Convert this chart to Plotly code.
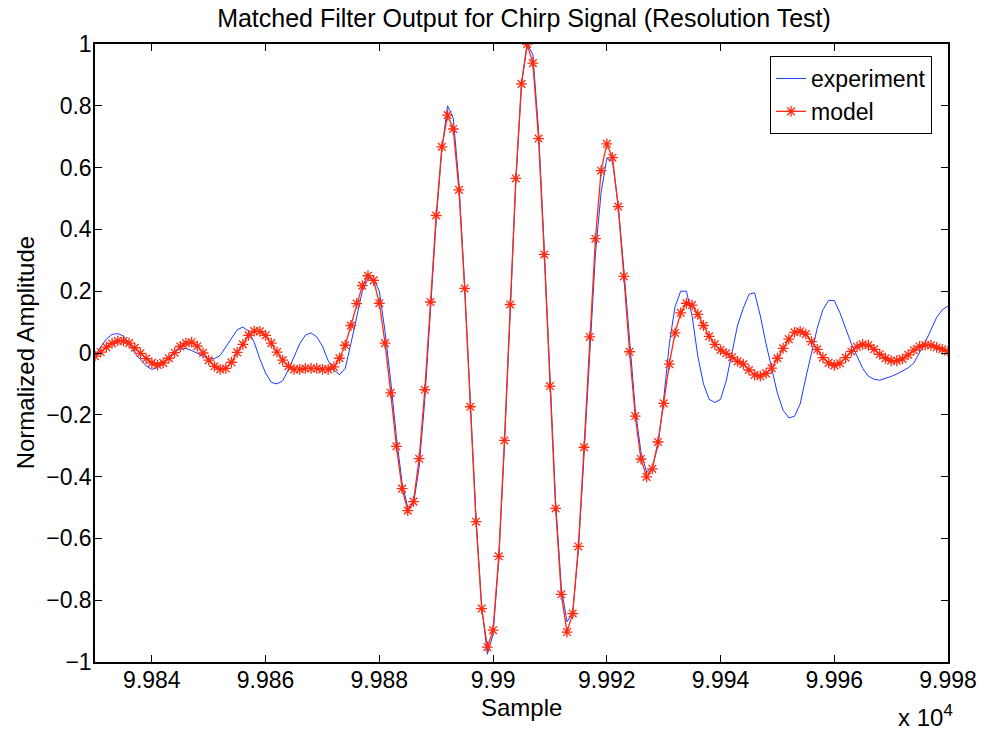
import plotly.graph_objects as go

# Sample indices shown on the x axis
samples = list(range(99830, 99981))

# Normalized matched-filter output, measured
experiment = [
    -0.010, 0.020, 0.045, 0.060, 0.063, 0.055, 0.030, 0.000, -0.022, -0.042,
    -0.053, -0.047, -0.030, -0.013, 0.005, 0.013, 0.015, 0.008, 0.000, -0.010,
    -0.019, -0.018, -0.008, 0.020, 0.050, 0.075, 0.084, 0.070, 0.035, -0.020,
    -0.065, -0.095, -0.100, -0.090, -0.055, -0.015, 0.030, 0.058, 0.065, 0.052,
    0.022, -0.025, -0.055, -0.070, -0.050, 0.030, 0.120, 0.200, 0.240, 0.240,
    0.200, 0.070, -0.090, -0.270, -0.420, -0.500, -0.490, -0.370, -0.150, 0.140,
    0.430, 0.660, 0.800, 0.760, 0.550, 0.220, -0.160, -0.530, -0.820, -0.975,
    -0.910, -0.670, -0.300, 0.140, 0.550, 0.870, 1.000, 0.966, 0.720, 0.340,
    -0.090, -0.480, -0.760, -0.870, -0.840, -0.640, -0.330, 0.010, 0.320, 0.520,
    0.630, 0.620, 0.480, 0.270, 0.030, -0.180, -0.320, -0.385, -0.370, -0.300,
    -0.150, 0.030, 0.150, 0.200, 0.200, 0.120, -0.010, -0.100, -0.150, -0.160,
    -0.150, -0.090, 0.000, 0.090, 0.145, 0.190, 0.195, 0.120, 0.030, -0.045,
    -0.130, -0.185, -0.210, -0.205, -0.165, -0.080, 0.000, 0.080, 0.140, 0.170,
    0.170, 0.130, 0.080, 0.030, -0.010, -0.050, -0.075, -0.085, -0.088, -0.083,
    -0.076, -0.068, -0.058, -0.048, -0.032, 0.000, 0.035, 0.075, 0.115, 0.140,
    0.152,
]

# Normalized matched-filter output, simulated
model = [
    -0.010, 0.003, 0.019, 0.031, 0.039, 0.039, 0.032, 0.017, -0.001, -0.018,
    -0.032, -0.039, -0.032, -0.017, 0.001, 0.021, 0.032, 0.035, 0.022, 0.000,
    -0.023, -0.043, -0.053, -0.050, -0.030, 0.002, 0.028, 0.057, 0.071, 0.070,
    0.057, 0.032, 0.003, -0.023, -0.043, -0.053, -0.053, -0.050, -0.050, -0.050,
    -0.053, -0.053, -0.045, -0.017, 0.025, 0.089, 0.160, 0.218, 0.250, 0.235,
    0.161, 0.032, -0.129, -0.302, -0.439, -0.510, -0.481, -0.342, -0.119, 0.165,
    0.445, 0.667, 0.770, 0.725, 0.528, 0.209, -0.174, -0.546, -0.827, -0.952,
    -0.897, -0.658, -0.283, 0.157, 0.565, 0.871, 1.000, 0.938, 0.694, 0.319,
    -0.107, -0.503, -0.781, -0.903, -0.843, -0.626, -0.305, 0.052, 0.370, 0.590,
    0.677, 0.632, 0.474, 0.248, 0.004, -0.204, -0.343, -0.401, -0.375, -0.288,
    -0.163, -0.036, 0.065, 0.130, 0.161, 0.155, 0.125, 0.089, 0.054, 0.028,
    0.010, -0.001, -0.014, -0.027, -0.036, -0.055, -0.071, -0.075, -0.066, -0.049,
    -0.017, 0.015, 0.045, 0.067, 0.070, 0.061, 0.037, 0.012, -0.015, -0.032,
    -0.040, -0.033, -0.015, 0.005, 0.020, 0.028, 0.025, 0.012, -0.004, -0.017,
    -0.025, -0.025, -0.019, -0.006, 0.009, 0.021, 0.026, 0.025, 0.018, 0.012,
    0.005,
]

x_tick_vals = [99840, 99860, 99880, 99900, 99920, 99940, 99960, 99980]
x_tick_text = ["9.984", "9.986", "9.988", "9.99", "9.992", "9.994", "9.996", "9.998"]
y_tick_vals = [-1, -0.8, -0.6, -0.4, -0.2, 0, 0.2, 0.4, 0.6, 0.8, 1]

FONT = "Liberation Sans, Arial, Helvetica, sans-serif"

fig = go.Figure()
fig.add_trace(go.Scatter(
    x=samples, y=experiment, name="experiment", mode="lines",
    line=dict(color="#1a3cff", width=1),
))
fig.add_trace(go.Scatter(
    x=samples, y=model, name="model", mode="lines+markers",
    line=dict(color="#ff2a10", width=1.3),
    marker=dict(symbol="asterisk-open", size=9,
                line=dict(color="#ff2a10", width=1.3)),
))

axis_common = dict(
    showgrid=False, zeroline=False,
    showline=True, linecolor="black", linewidth=1.5, mirror="allticks",
    ticks="inside", ticklen=7, tickwidth=1, tickcolor="black",
    tickfont=dict(family=FONT, size=23, color="black"),
)

fig.update_xaxes(range=[99830, 99980], tickmode="array",
                 tickvals=x_tick_vals, ticktext=x_tick_text,
                 ticklabelstandoff=-3, **axis_common)
fig.update_yaxes(range=[-1, 1], tickmode="array", tickvals=y_tick_vals,
                 ticklabelstandoff=-3, **axis_common)

fig.update_layout(
    width=989, height=730,
    margin=dict(l=95, r=37, t=44, b=68),
    paper_bgcolor="white", plot_bgcolor="white",
    font=dict(family=FONT, size=24, color="black"),
    title=dict(text="Matched Filter Output for Chirp Signal (Resolution Test)",
               x=(526 - 95) / 857, xref="paper", xanchor="center",
               y=1 - 18 / 730, yref="container", yanchor="middle",
               font=dict(family=FONT, size=25, color="black")),
    legend=dict(x=0.9813, y=0.9806, xanchor="right", yanchor="top",
                bgcolor="white", bordercolor="black", borderwidth=1,
                font=dict(family=FONT, size=23, color="black"),
                tracegroupgap=0),
    showlegend=True,
    annotations=[
        dict(text="Sample", x=0.5, y=(662 - 707) / 618, xref="paper", yref="paper",
             xanchor="center", yanchor="middle", showarrow=False,
             font=dict(family=FONT, size=24, color="black")),
        dict(text="Normalized Amplitude", x=(25 - 95) / 857, y=0.5,
             xref="paper", yref="paper", textangle=-90,
             xanchor="center", yanchor="middle", showarrow=False,
             font=dict(family=FONT, size=24, color="black")),
        dict(text="x 10<sup>4</sup>", x=(900 - 95) / 857, y=(662 - 716) / 618,
             xref="paper", yref="paper", xanchor="left", yanchor="middle",
             showarrow=False, font=dict(family=FONT, size=24, color="black")),
    ],
)

fig.write_html("out.html")
